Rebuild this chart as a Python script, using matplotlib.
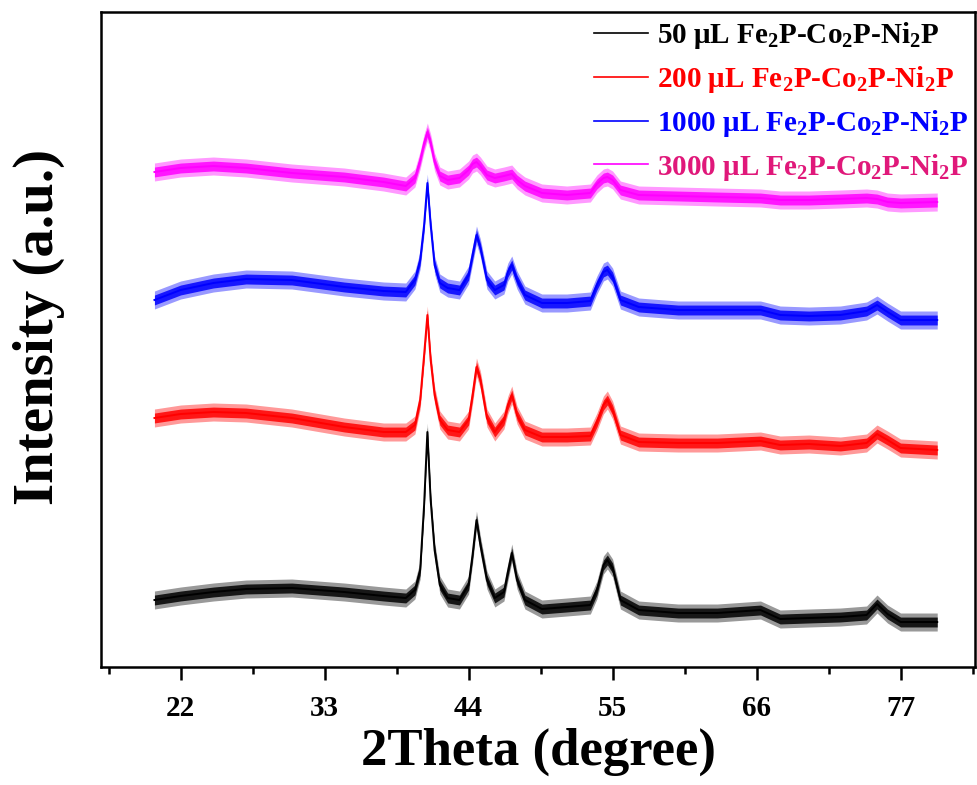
import matplotlib
matplotlib.use("Agg")
import matplotlib.pyplot as plt
import numpy as np

plt.rcParams['font.family'] = ['Liberation Serif', 'DejaVu Serif']
plt.rcParams['font.weight'] = 'bold'
plt.rcParams['mathtext.fontset'] = 'custom'
plt.rcParams['mathtext.rm'] = 'Liberation Serif:bold'
plt.rcParams['mathtext.bf'] = 'Liberation Serif:bold'
plt.rcParams['mathtext.it'] = 'Liberation Serif:bold'

# ---- data (2theta in degrees, intensity in a.u.) ----
two_theta = [20.0, 22.0, 24.5, 27.0, 30.5, 34.5, 37.5, 39.2, 39.9, 40.3, 40.6, 40.85,
             41.1, 41.4, 41.8, 42.4, 43.3, 44.0, 44.3, 44.6, 44.9, 45.4, 46.0, 46.7,
             47.0, 47.3, 47.7, 48.3, 49.6, 51.5, 53.3, 53.8, 54.3, 54.6, 55.0, 55.6,
             57.0, 60.0, 63.0, 66.3, 67.8, 70.0, 72.4, 74.4, 75.2, 76.0, 77.0, 79.8]

i_50 = [67, 71, 75, 78, 79, 75, 71, 69, 77, 97, 162, 235,
        167, 117, 82, 69, 67, 82, 112, 147, 122, 87, 69, 75,
        95, 114, 87, 67, 58, 60, 62, 77, 102, 107, 99, 67,
        57, 54, 54, 57, 48, 49, 50, 52, 63, 53, 45, 45]

i_200 = [249, 253, 255, 254, 249, 240, 235, 235, 242, 267, 312, 352,
         307, 272, 247, 237, 235, 247, 272, 300, 287, 249, 235, 247,
         262, 272, 252, 237, 230, 230, 231, 245, 262, 267, 257, 232,
         225, 224, 224, 226, 222, 223, 221, 224, 233, 227, 219, 217]

i_1000 = [367, 377, 384, 388, 387, 380, 376, 375, 387, 407, 442, 484,
          442, 402, 384, 379, 377, 392, 412, 432, 419, 387, 377, 382,
          395, 402, 387, 372, 364, 364, 366, 382, 395, 397, 390, 367,
          360, 357, 357, 357, 352, 351, 352, 356, 362, 355, 347, 347]

i_3000 = [495, 499, 501, 499, 494, 490, 485, 481, 489, 507, 524, 535,
          524, 505, 491, 487, 489, 497, 503, 505, 501, 492, 489, 491,
          492, 493, 487, 481, 474, 472, 474, 483, 489, 490, 487, 477,
          472, 471, 470, 469, 467, 467, 468, 469, 468, 465, 464, 465]

noise_amplitude = 9  # half-width of the noise band, a.u.

labels = [r"50 μL Fe$_2$P-Co$_2$P-Ni$_2$P",
          r"200 μL Fe$_2$P-Co$_2$P-Ni$_2$P",
          r"1000 μL Fe$_2$P-Co$_2$P-Ni$_2$P",
          r"3000 μL Fe$_2$P-Co$_2$P-Ni$_2$P"]
colors = ['#000000', '#FF0000', '#0000FF', '#FF00FF']
text_colors = ['#000000', '#FF0000', '#0000FF', '#E0187A']

xticks = [22, 33, 44, 55, 66, 77]

fig = plt.figure(figsize=(9.78, 7.85), dpi=100)
ax = fig.add_axes([0.1033, 0.1503, 0.8937, 0.8344])

x = np.array(two_theta)
for series, c, lab in zip([i_50, i_200, i_1000, i_3000], colors, labels):
    y = np.array(series, dtype=float)
    ax.fill_between(x, y - noise_amplitude, y + noise_amplitude, color=c, alpha=0.4, lw=0)
    ax.fill_between(x, y - noise_amplitude * 0.55, y + noise_amplitude * 0.55, color=c, alpha=0.85, lw=0)
    ax.plot(x, y, color=c, lw=1.4, label=lab)

ax.set_xlim(15.92, 82.69)
ax.set_ylim(0, 655)
ax.set_xticks(xticks)
ax.set_xticks([t - 5.5 for t in xticks] + [xticks[-1] + 5.5], minor=True)
ax.set_yticks([])
ax.tick_params(axis='x', which='major', direction='out', length=9, width=1.8,
               labelsize=21, pad=11)
ax.tick_params(axis='x', which='minor', direction='out', length=5, width=1.8)
for sp in ax.spines.values():
    sp.set_linewidth(1.8)

ax.set_xlabel("2Theta (degree)", fontsize=38, fontweight='bold', labelpad=4)
ax.set_ylabel("Intensity (a.u.)", fontsize=41, fontweight='bold')
ax.yaxis.set_label_coords(-0.041, 0.519)

leg = ax.legend(loc='upper right', bbox_to_anchor=(1.011, 1.012), frameon=False,
                fontsize=21, handlelength=1.85, handletextpad=0.3,
                labelspacing=0.44, borderaxespad=0.15)
for t, tc in zip(leg.get_texts(), text_colors):
    t.set_color(tc)
for h in leg.get_lines():
    h.set_linewidth(1.2)

fig.savefig("out.png", dpi=100)
